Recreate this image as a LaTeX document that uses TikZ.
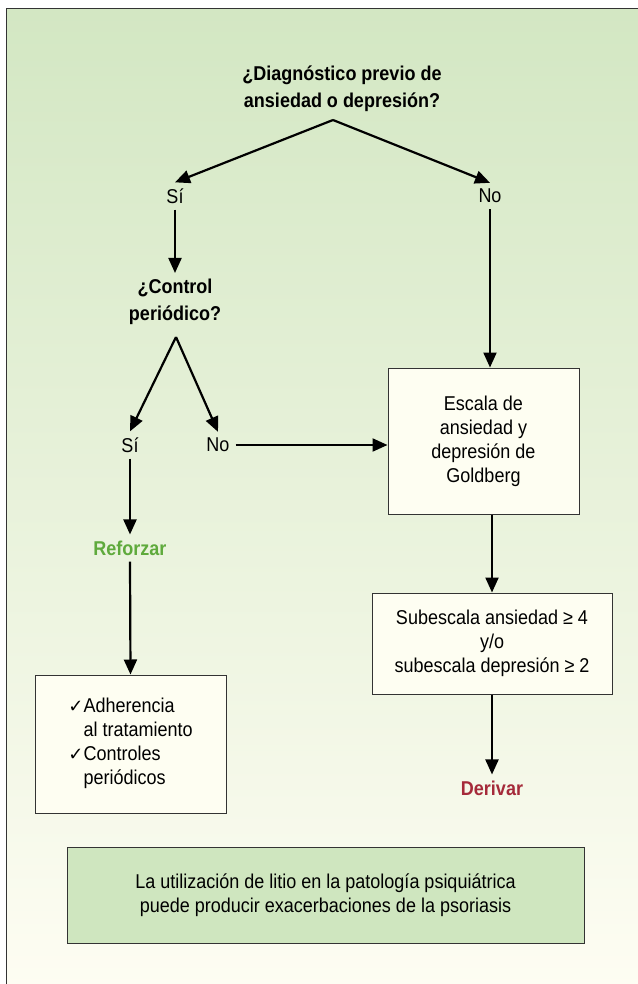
\documentclass[tikz,border=0pt]{standalone}
\usepackage{fontspec}
\setmainfont[FakeStretch=0.9]{Liberation Sans}
\newfontfamily\symfont{DejaVu Sans}
\usetikzlibrary{arrows.meta}
\definecolor{bgtop}{HTML}{D3E7C3}
\definecolor{bgmid}{HTML}{E9F2E0}
\definecolor{bgbot}{HTML}{FEFDF3}
\definecolor{ivory}{HTML}{FEFEF2}
\definecolor{notegreen}{HTML}{CFE6BF}
\definecolor{refgreen}{HTML}{5FAA3C}
\definecolor{derred}{HTML}{A52A3A}
\definecolor{frame}{HTML}{333333}

\tikzset{
  lbl/.style={font=\fontsize{20}{24}\selectfont, inner sep=6pt},
  qst/.style={font=\bfseries\fontsize{20}{27}\selectfont, align=center, inner sep=6pt},
  boxnode/.style={draw=frame, line width=1pt, fill=ivory, align=center,
    font=\fontsize{20}{24}\selectfont, inner sep=0pt},
  arr/.style={line width=2.2pt, -{Triangle[length=15pt,width=13pt]}},
}

\begin{document}
\begin{tikzpicture}[x=1pt,y=-1pt]
\useasboundingbox (0,0) rectangle (637,984);

% background panel with its frame
\shade[top color=bgtop, middle color=bgmid, bottom color=bgbot] (6,9) rectangle (640,990);
\draw[line width=1pt, frame] (6,990) -- (6,9) -- (640,9);

% first question
\node[qst] (q1) at (342,89) {¿Diagnóstico previo de\\ansiedad o depresión?};
\coordinate (apex1) at (333,120);
\node[lbl] (si1) at (175,196) {Sí};
\node[lbl] (no1) at (490,196) {No};
\draw[arr] (apex1) -- (si1.north);
\draw[arr] (apex1) -- (no1.north);

% second question
\node[qst] (q2) at (175,302) {¿Control\\periódico?};
\draw[arr] (si1.south) -- (q2.north);
\coordinate (apex2) at (176,337);
\node[lbl] (si2) at (130,445) {Sí};
\node[lbl] (no2) at (218,445) {No};
\draw[arr] (apex2) -- (si2.north);
\draw[arr] (apex2) -- (no2.north);

% right column
\node[boxnode, minimum width=191pt, minimum height=146pt] (escala) at (483.5,441)
  {Escala de\\ansiedad y\\depresión de\\Goldberg};
\node[boxnode, minimum width=240pt, minimum height=101pt] (sub) at (492,643.5)
  {Subescala ansiedad ≥ 4\\y/o\\subescala depresión ≥ 2};
\node[lbl, font=\bfseries\fontsize{20}{24}\selectfont, text=derred] (der) at (492,788) {Derivar};
\draw[arr] (no2.east) -- (no2.east -| escala.west);
\draw[arr] (no1.south) -- (no1.south |- escala.north);
\draw[arr] (sub.north |- escala.south) -- (sub.north);
\draw[arr] (sub.south) -- (der.north);

% left column
\node[lbl, font=\bfseries\fontsize{20}{24}\selectfont, text=refgreen] (ref) at (130,548) {Reforzar};
\node[boxnode, minimum width=191pt, minimum height=138pt] (chk) at (130.5,744)
  {\begin{tabular}{@{}l@{}l@{}}
   {\symfont\fontsize{18}{24}\selectfont ✓} & Adherencia\\
   & al tratamiento\\
   {\symfont\fontsize{18}{24}\selectfont ✓} & Controles\\
   & periódicos
   \end{tabular}};
\draw[arr] (si2.south) -- (ref.north);
\draw[arr] (ref.south) -- (chk.north);

% note on lithium
\node[boxnode, fill=notegreen, minimum width=517pt, minimum height=96pt] (note) at (325.5,895)
  {La utilización de litio en la patología psiquiátrica\\puede producir exacerbaciones de la psoriasis};
\end{tikzpicture}
\end{document}
